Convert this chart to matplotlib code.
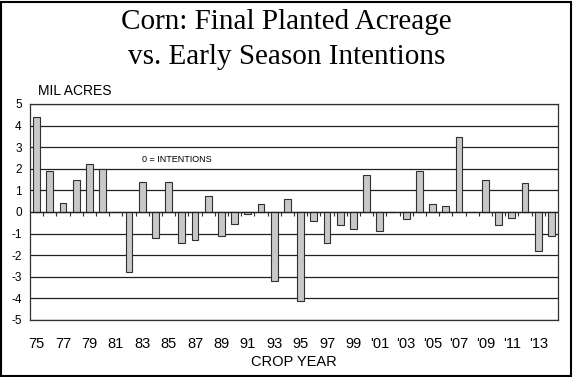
import numpy as np
import matplotlib
matplotlib.use('Agg')
import matplotlib.pyplot as plt
from matplotlib.patches import Rectangle

# crop years 1975-2014, final planted minus March intentions (mil acres)
years = list(range(1975, 2015))
diff = [4.4, 1.9, 0.4, 1.5, 2.2, 2.0, 0.0, -2.8, 1.4, -1.2,
        1.4, -1.45, -1.3, 0.75, -1.1, -0.57, -0.1, 0.36, -3.2, 0.6,
        -4.1, -0.42, -1.45, -0.6, -0.8, 1.7, -0.88, 0.0, -0.33, 1.88,
        0.38, 0.3, 3.48, 0.0, 1.5, -0.6, -0.3, 1.33, -1.8, -1.1]
tick_labels = [f"{y % 100:02d}" if y < 2000 else f"'{y % 100:02d}" for y in years[::2]]
y_ticks = list(range(-5, 6))

plt.rcParams['font.family'] = ['Liberation Sans', 'DejaVu Sans']

fig = plt.figure(figsize=(5.73, 3.77), dpi=100)
ax = fig.add_axes([30 / 573, 1 - 320 / 377, 528 / 573, 216 / 377])

x = np.arange(len(years))
ax.bar(x, diff, width=0.52, color='#c8c8c8', edgecolor='#303030', linewidth=0.8, zorder=3)

ax.set_xlim(-0.5, len(years) - 0.5)
ax.set_ylim(-5, 5)
ax.set_yticks(y_ticks)
ax.set_yticklabels([str(v) for v in y_ticks], fontsize=8.5)
ax.yaxis.grid(True, color='#202020', linewidth=0.9, zorder=1)
ax.tick_params(axis='y', length=0, pad=6)

ax.set_xticks(x[::2])
ax.set_xticklabels(tick_labels, fontsize=10.5)
ax.tick_params(axis='x', length=0, pad=12)

# small category ticks hanging from the zero line
ax.vlines(x[:-1] + 0.5, -0.18, 0, color='#303030', linewidth=0.8, zorder=2)
ax.axhline(0, color='#202020', linewidth=0.9, zorder=4)

for s in ax.spines.values():
    s.set_color('#303030')
    s.set_linewidth(0.9)

ax.set_xlabel('CROP YEAR', fontsize=10.5, labelpad=3)
ax.text(0.015, 1.03, 'MIL ACRES', transform=ax.transAxes, fontsize=10, va='bottom')
ax.text(8, 2.45, '0 = INTENTIONS', fontsize=6.5, ha='left', va='center')

fig.text(0.5, 1 - 29 / 377, 'Corn: Final Planted Acreage', ha='center', va='baseline',
         fontsize=21, family='Liberation Serif')
fig.text(0.5, 1 - 64 / 377, 'vs. Early Season Intentions', ha='center', va='baseline',
         fontsize=21, family='Liberation Serif')

fig.patches.append(Rectangle((0.002, 0.003), 0.995, 0.992, transform=fig.transFigure,
                             fill=False, edgecolor='black', linewidth=1.5))

fig.savefig('out.png', dpi=100)
